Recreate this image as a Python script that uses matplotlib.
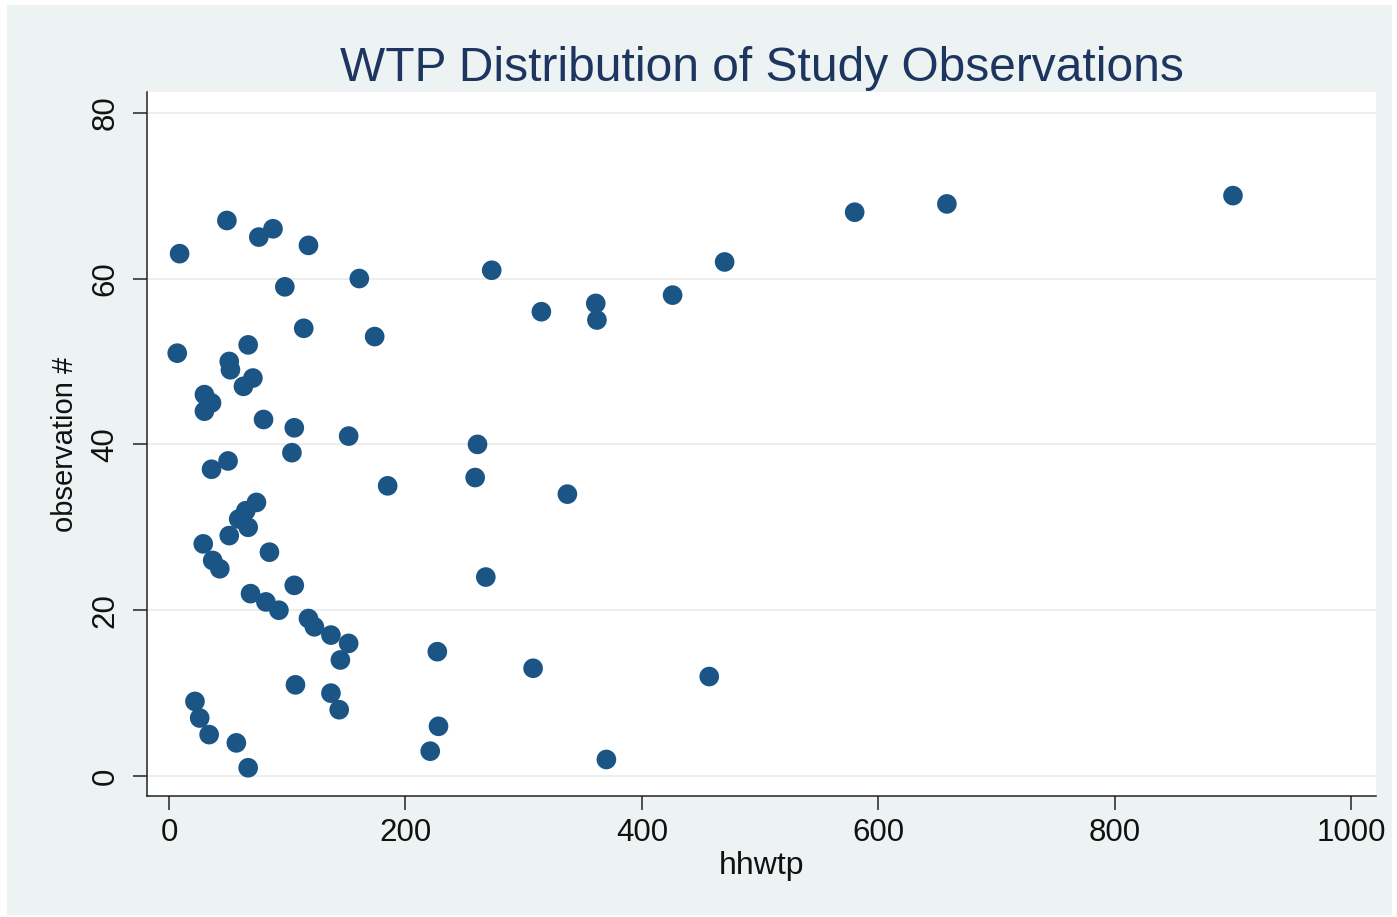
import matplotlib
matplotlib.use("Agg")
import matplotlib.pyplot as plt
from matplotlib.patches import Rectangle

# household willingness to pay, in observation order 1..70
hhwtp = [67, 370, 221, 57, 34, 228, 26, 144, 22, 137,
         107, 457, 308, 145, 227, 152, 137, 123, 118, 93,
         82, 69, 106, 268, 43, 37, 85, 29, 51, 67,
         59, 65, 74, 337, 185, 259, 36, 50, 104, 261,
         152, 106, 80, 30, 36, 30, 63, 71, 52, 51,
         7, 67, 174, 114, 362, 315, 361, 426, 98, 161,
         273, 470, 9, 118, 76, 88, 49, 580, 658, 900]
observation = [1, 2, 3, 4, 5, 6, 7, 8, 9, 10,
               11, 12, 13, 14, 15, 16, 17, 18, 19, 20,
               21, 22, 23, 24, 25, 26, 27, 28, 29, 30,
               31, 32, 33, 34, 35, 36, 37, 38, 39, 40,
               41, 42, 43, 44, 45, 46, 47, 48, 49, 50,
               51, 52, 53, 54, 55, 56, 57, 58, 59, 60,
               61, 62, 63, 64, 65, 66, 67, 68, 69, 70]
xticks = [0, 200, 400, 600, 800, 1000]
yticks = [0, 20, 40, 60, 80]

plt.rcParams['font.family'] = ['Liberation Sans', 'DejaVu Sans']

fig = plt.figure(figsize=(13.97, 9.17), dpi=100, facecolor='white')
# light bluish background panel with thin white margin
fig.patches.append(Rectangle((7 / 1397, 2 / 917), 1385 / 1397, 910 / 917,
                             transform=fig.transFigure, facecolor='#edf3f3',
                             edgecolor='none', zorder=-10))

ax = fig.add_axes([0.1052, 0.1320, 0.8798, 0.7677])
ax.set_facecolor('white')

ax.scatter(hhwtp, observation, s=200, color='#1b5585', edgecolors='none', zorder=3)

ax.set_xlim(-18.6, 1021)
ax.set_ylim(-2.4, 82.5)
ax.set_xticks(xticks)
ax.set_yticks(yticks)
ax.grid(axis='y', color='#ececec', linewidth=1.3, zorder=0)
ax.grid(axis='x', visible=False)

for side in ['top', 'right']:
    ax.spines[side].set_visible(False)
for side in ['left', 'bottom']:
    ax.spines[side].set_color('#222222')
    ax.spines[side].set_linewidth(1.1)

ax.tick_params(axis='both', direction='out', length=10, width=1.1, color='#222222',
               labelsize=22.5, labelcolor='#111111')
ax.tick_params(axis='x', pad=6)
ax.tick_params(axis='y', pad=9)
for lbl in ax.get_yticklabels():
    lbl.set_rotation(90)
    lbl.set_va('center')

ax.set_xlabel('hhwtp', fontsize=23, color='#111111', labelpad=2)
ax.set_ylabel('observation #', fontsize=21, color='#111111', labelpad=8)
ax.set_title('WTP Distribution of Study Observations', fontsize=34.5,
             color='#1e3560', pad=8)

fig.savefig('out.png', dpi=100, facecolor=fig.get_facecolor())
